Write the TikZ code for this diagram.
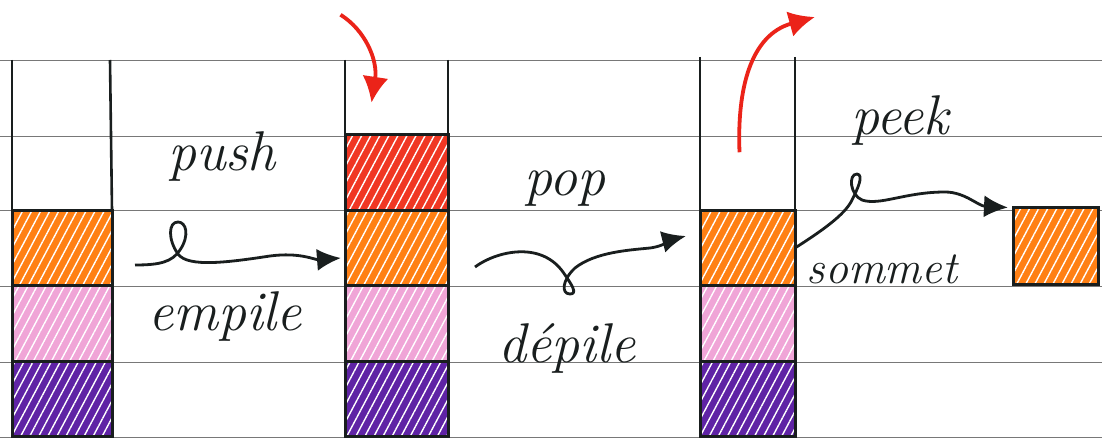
\documentclass[tikz,border=0pt]{standalone}
\usepackage{fontspec}
\usetikzlibrary{arrows.meta,patterns.meta,calc}
\definecolor{rul}{RGB}{120,120,120}
\definecolor{cor}{RGB}{255,128,20}
\definecolor{cred}{RGB}{240,55,35}
\definecolor{cpink}{RGB}{240,165,215}
\definecolor{cpur}{RGB}{95,35,165}
\definecolor{arred}{RGB}{235,35,25}
\definecolor{ink}{RGB}{25,30,30}
\begin{document}
\begin{tikzpicture}[x=1pt,y=-1pt,
  rule/.style={draw=rul,line width=1pt},
  wall/.style={draw=ink,line width=2.6pt},
  blk/.style={inner sep=0pt,outer sep=0pt,minimum height=75.5pt,
     postaction={pattern={Lines[angle=62,distance=8pt,line width=1.4pt]},pattern color=white,fill opacity=0.35},
     postaction={draw=ink,line width=3pt}},
  lab/.style={font=\fontsize{56}{60}\selectfont\itshape,text=ink,inner sep=0pt,anchor=base},
  labsm/.style={font=\fontsize{46}{50}\selectfont\itshape,text=ink,inner sep=0pt,anchor=base},
  blarr/.style={draw=ink,line width=2.8pt,-{Latex[length=24pt,width=22pt]}},
  redarr/.style={draw=arred,line width=3.8pt,-{Latex[length=26pt,width=26pt]}}
]
\useasboundingbox (0,0) rectangle (1102,441);
\fill[white] (0,0) rectangle (1102,441);
% ruled paper
\foreach \yy in {61,136,210,286,362,437} \draw[rule] (0,\yy) -- (1102,\yy);

% stack 1
\node[blk,fill=cor,minimum width=100pt] (s1o) at (62,248) {};
\node[blk,fill=cpink,minimum width=100pt] (s1p) at (62,323.5) {};
\node[blk,fill=cpur,minimum width=100pt] (s1v) at (62,399) {};
\draw[wall] (12,60) -- (s1o.north west);
\draw[wall] (110,60) -- (s1o.north east);

% stack 2
\node[blk,fill=cred,minimum width=103pt] (s2r) at (396.5,172.5) {};
\node[blk,fill=cor,minimum width=103pt] (s2o) at (396.5,248) {};
\node[blk,fill=cpink,minimum width=103pt] (s2p) at (396.5,323.5) {};
\node[blk,fill=cpur,minimum width=103pt] (s2v) at (396.5,399) {};
\draw[wall] (345,60) -- (s2r.north west);
\draw[wall] (448,60) -- (s2r.north east);

% stack 3
\node[blk,fill=cor,minimum width=95pt] (s3o) at (747.5,248) {};
\node[blk,fill=cpink,minimum width=95pt] (s3p) at (747.5,323.5) {};
\node[blk,fill=cpur,minimum width=95pt] (s3v) at (747.5,399) {};
\draw[wall] (700,57) -- (s3o.north west);
\draw[wall] (795,57) -- (s3o.north east);

% peeked element
\node[blk,fill=cor,minimum width=85pt,minimum height=77pt] (pk) at (1055.5,245.5) {};

% labels
\node[lab] (push) at (222,170) {push};
\node[lab] (empile) at (225,330) {empile};
\node[lab] (pop) at (565,195) {pop};
\node[lab] (depile) at (567,362) {dépile};
\node[lab] (peek) at (900,135) {peek};
\node[labsm] (sommet) at (882,283) {sommet};

% red arrows
\draw[redarr] ($(s2r.north)+(-56,-120)$) .. controls (365,30) and (378,60) .. ($(s2r.north)+(-25,-32)$);
\coordinate (popout) at (815,17);
\draw[redarr] ($(s3o.north)+(-8,-58)$) .. controls (737,90) and (750,35) .. (popout);

% push arrow
\draw[blarr] ($(s1o.east)+(23,17)$) .. controls (160,265) and (172,262) .. (180,250)
   .. controls (190,235) and (186,222) .. (178,222)
   .. controls (168,222) and (168,240) .. (178,254)
   .. controls (188,268) and (230,262) .. (270,256)
   .. controls (300,252) and (315,260) .. ($(s2o.west)+(-4,10)$);

% pop arrow
\draw[blarr] ($(s2o.east)+(27,19)$) .. controls (495,252) and (540,240) .. (563,272)
   .. controls (572,285) and (578,294) .. (570,294)
   .. controls (561,294) and (562,280) .. (575,268)
   .. controls (595,252) and (630,250) .. (650,248)
   .. controls (665,246) and (670,240) .. ($(s3o.west)+(-14,-12)$);

% peek arrow
\draw[blarr] (s3o.east) .. controls (820,232) and (845,215) .. (852,200)
   .. controls (858,188) and (864,175) .. (857,174)
   .. controls (848,174) and (850,195) .. (862,200)
   .. controls (880,206) and (905,192) .. (945,192)
   .. controls (965,192) and (978,206) .. ($(pk.west)+(-5,-38)$);
\end{tikzpicture}
\end{document}
